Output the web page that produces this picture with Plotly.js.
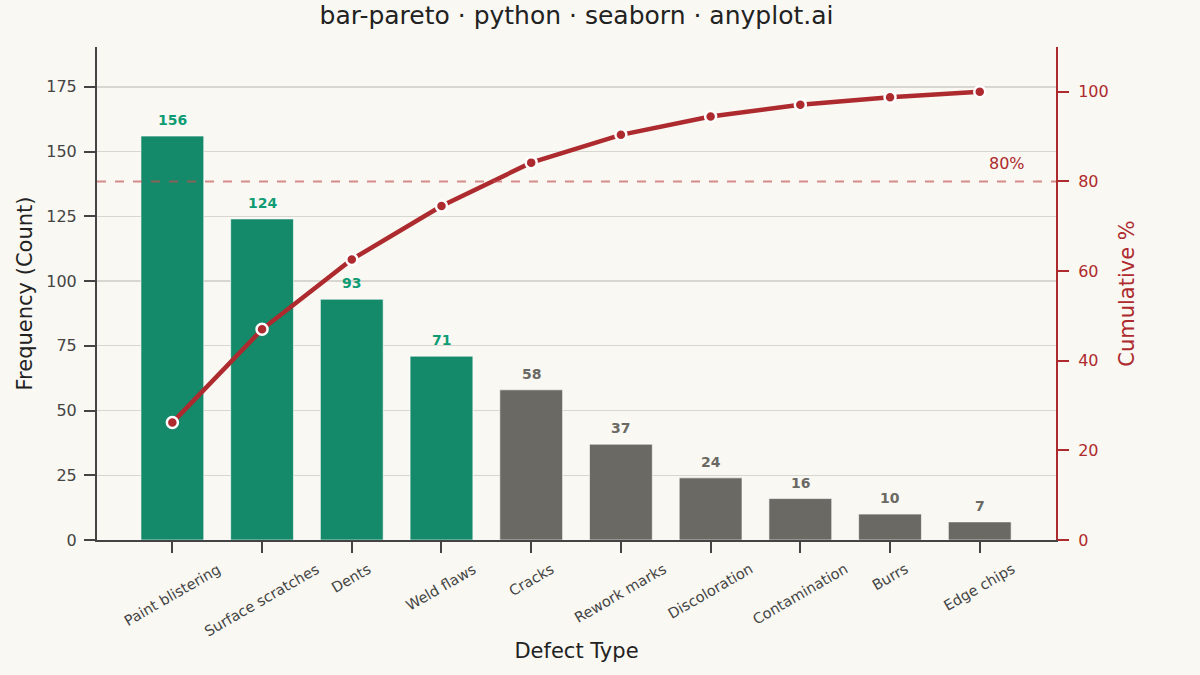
<!DOCTYPE html>
<html>
<head>
<meta charset="utf-8">
<script src="https://cdn.plot.ly/plotly-3.0.1.min.js"></script>
<style>
  html, body { margin: 0; padding: 0; background: #FAF8F2; }
  #chart { width: 1200px; height: 675px; }
</style>
</head>
<body>
<div id="chart"></div>
<script>
// defect counts, already sorted high to low
const categories = ["Paint blistering", "Surface scratches", "Dents", "Weld flaws", "Cracks",
  "Rework marks", "Discoloration", "Contamination", "Burrs", "Edge chips"];
const counts = [156, 124, 93, 71, 58, 37, 24, 16, 10, 7];
const cumulativePct = [26.2, 47.0, 62.6, 74.5, 84.2, 90.4, 94.5, 97.1, 98.8, 100];
const vitalFew = [true, true, true, true, false, false, false, false, false, false];

const GREEN = "#148A6A";
const GREEN_TXT = "#0E9C74";
const GRAY = "#6A6964";
const RED = "#AD2A2E";
const INK = "#444444";
const FONT = "DejaVu Sans, sans-serif";

const xs = categories.map((c, i) => i);

var bars = {
  type: "bar",
  x: xs,
  y: counts,
  width: 0.7,
  marker: {
    color: vitalFew.map(v => v ? GREEN : GRAY),
    line: { color: "#FFFFFF", width: 0.6 }
  },
  hoverinfo: "x+y",
  showlegend: false
};

var line = {
  type: "scatter",
  mode: "lines+markers",
  x: xs,
  y: cumulativePct,
  yaxis: "y2",
  line: { color: RED, width: 4.5 },
  marker: { color: RED, size: 11, line: { color: "#FFFFFF", width: 2.5 } },
  showlegend: false
};

// count labels above bars
var countNotes = counts.map((v, i) => ({
  x: i, y: v, xref: "x", yref: "y",
  text: "<b>" + v + "</b>", showarrow: false,
  xanchor: "center", yanchor: "bottom", yshift: 6,
  font: { family: FONT, size: 14, color: vitalFew[i] ? GREEN_TXT : GRAY }
}));

// rotated category labels, centred under each tick
var labelNotes = categories.map((c, i) => ({
  x: i, y: 0, xref: "x", yref: "paper",
  text: c, showarrow: false, textangle: -30,
  xanchor: "center", yanchor: "top", yshift: -18,
  font: { family: FONT, size: 14.5, color: INK }
}));

var layout = {
  width: 1200,
  height: 675,
  paper_bgcolor: "#FAF8F2",
  plot_bgcolor: "#FAF8F2",
  margin: { l: 97, r: 144, t: 47, b: 135 },
  title: {
    text: "bar-pareto · python · seaborn · anyplot.ai",
    font: { family: FONT, size: 25, color: "#222222" },
    xref: "paper", x: 0.5, xanchor: "center", y: 0.978, yanchor: "middle"
  },
  xaxis: {
    range: [-0.84, 9.85],
    tickvals: xs,
    showticklabels: false,
    ticks: "outside", ticklen: 11, tickwidth: 2, tickcolor: INK,
    showline: true, linecolor: INK, linewidth: 2,
    showgrid: false, zeroline: false,
    title: { text: "Defect Type", font: { family: FONT, size: 21, color: "#222222" }, standoff: 91 }
  },
  yaxis: {
    range: [0, 190.4],
    tickvals: [0, 25, 50, 75, 100, 125, 150, 175],
    ticks: "outside", ticklen: 11, tickwidth: 2, tickcolor: INK,
    ticklabelstandoff: 4,
    tickfont: { family: FONT, size: 16, color: INK },
    showline: true, linecolor: INK, linewidth: 2,
    showgrid: true, gridcolor: "#D8D6D0", gridwidth: 1.3,
    zeroline: false,
    title: { text: "Frequency (Count)", font: { family: FONT, size: 21, color: "#222222" }, standoff: 8 }
  },
  yaxis2: {
    overlaying: "y",
    side: "right",
    range: [0, 110],
    tickvals: [0, 20, 40, 60, 80, 100],
    ticks: "outside", ticklen: 11, tickwidth: 2, tickcolor: RED,
    ticklabelstandoff: 6,
    tickfont: { family: FONT, size: 16, color: RED },
    showline: true, linecolor: RED, linewidth: 2,
    showgrid: false, zeroline: false,
    title: { text: "Cumulative %", font: { family: FONT, size: 21, color: RED }, standoff: 12 }
  },
  shapes: [{
    type: "line", xref: "paper", yref: "y2",
    x0: 0, x1: 1, y0: 80, y1: 80,
    line: { color: "rgba(196,78,82,0.65)", width: 2, dash: "dash" }
  }],
  annotations: labelNotes.concat(countNotes, [{
    x: 0.97, y: 80, xref: "paper", yref: "y2",
    text: "80%", showarrow: false,
    xanchor: "right", yanchor: "bottom", yshift: 6,
    font: { family: FONT, size: 16, color: RED }
  }])
};

Plotly.newPlot("chart", [bars, line], layout, { displayModeBar: false, staticPlot: true });
</script>
</body>
</html>
